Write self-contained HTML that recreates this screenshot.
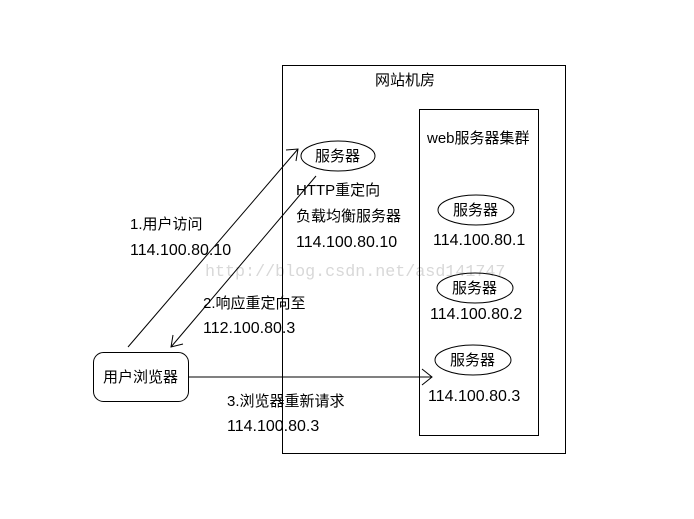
<!DOCTYPE html>
<html><head><meta charset="utf-8"><style>html,body{margin:0;padding:0;background:#fff}svg{display:block}</style></head>
<body>
<svg width="694" height="519" viewBox="0 0 694 519" xmlns="http://www.w3.org/2000/svg" font-family="'Liberation Sans','Noto Sans CJK SC',sans-serif" font-size="15" fill="#000">
<rect x="0" y="0" width="694" height="519" fill="#fff"/>
<text x="205" y="276" font-family="'Liberation Mono',monospace" font-size="16.7" fill="#d8d8d8">http://blog.csdn.net/asd141747</text>
<g fill="none" stroke="#000" stroke-width="1">
<rect x="282.5" y="65.5" width="283" height="388"/>
<rect x="419.5" y="109.5" width="119" height="326"/>
<ellipse cx="338" cy="156" rx="37" ry="15"/>
<ellipse cx="476" cy="210" rx="38" ry="15"/>
<ellipse cx="475" cy="288" rx="38" ry="15"/>
<ellipse cx="473" cy="360" rx="38" ry="15"/>
<rect x="93.5" y="352.5" width="95" height="49" rx="10"/>
<line x1="128" y1="347" x2="298" y2="149"/>
<polyline points="286,150 298,149 296,161"/>
<line x1="316" y1="176" x2="171" y2="347"/>
<polyline points="173,335 171,347 183,344"/>
<line x1="188" y1="377" x2="432" y2="377"/>
<polyline points="422,369 432,377 422,385"/>
</g>
<text x="375" y="85">网站机房</text>
<text x="427" y="143">web服务器集群</text>
<text x="315" y="161">服务器</text>
<text x="453" y="215">服务器</text>
<text x="452" y="293">服务器</text>
<text x="450" y="365">服务器</text>
<text x="103" y="382">用户浏览器</text>
<text x="130" y="229">1.用户访问</text>
<text x="130" y="255" font-size="16">114.100.80.10</text>
<text x="296" y="195">HTTP重定向</text>
<text x="296" y="221">负载均衡服务器</text>
<text x="296" y="247" font-size="16">114.100.80.10</text>
<text x="203" y="308">2.响应重定向至</text>
<text x="203" y="333" font-size="16">112.100.80.3</text>
<text x="227" y="406">3.浏览器重新请求</text>
<text x="227" y="431" font-size="16">114.100.80.3</text>
<text x="433" y="245" font-size="16">114.100.80.1</text>
<text x="430" y="319" font-size="16">114.100.80.2</text>
<text x="428" y="401" font-size="16">114.100.80.3</text>
</svg>
</body></html>
